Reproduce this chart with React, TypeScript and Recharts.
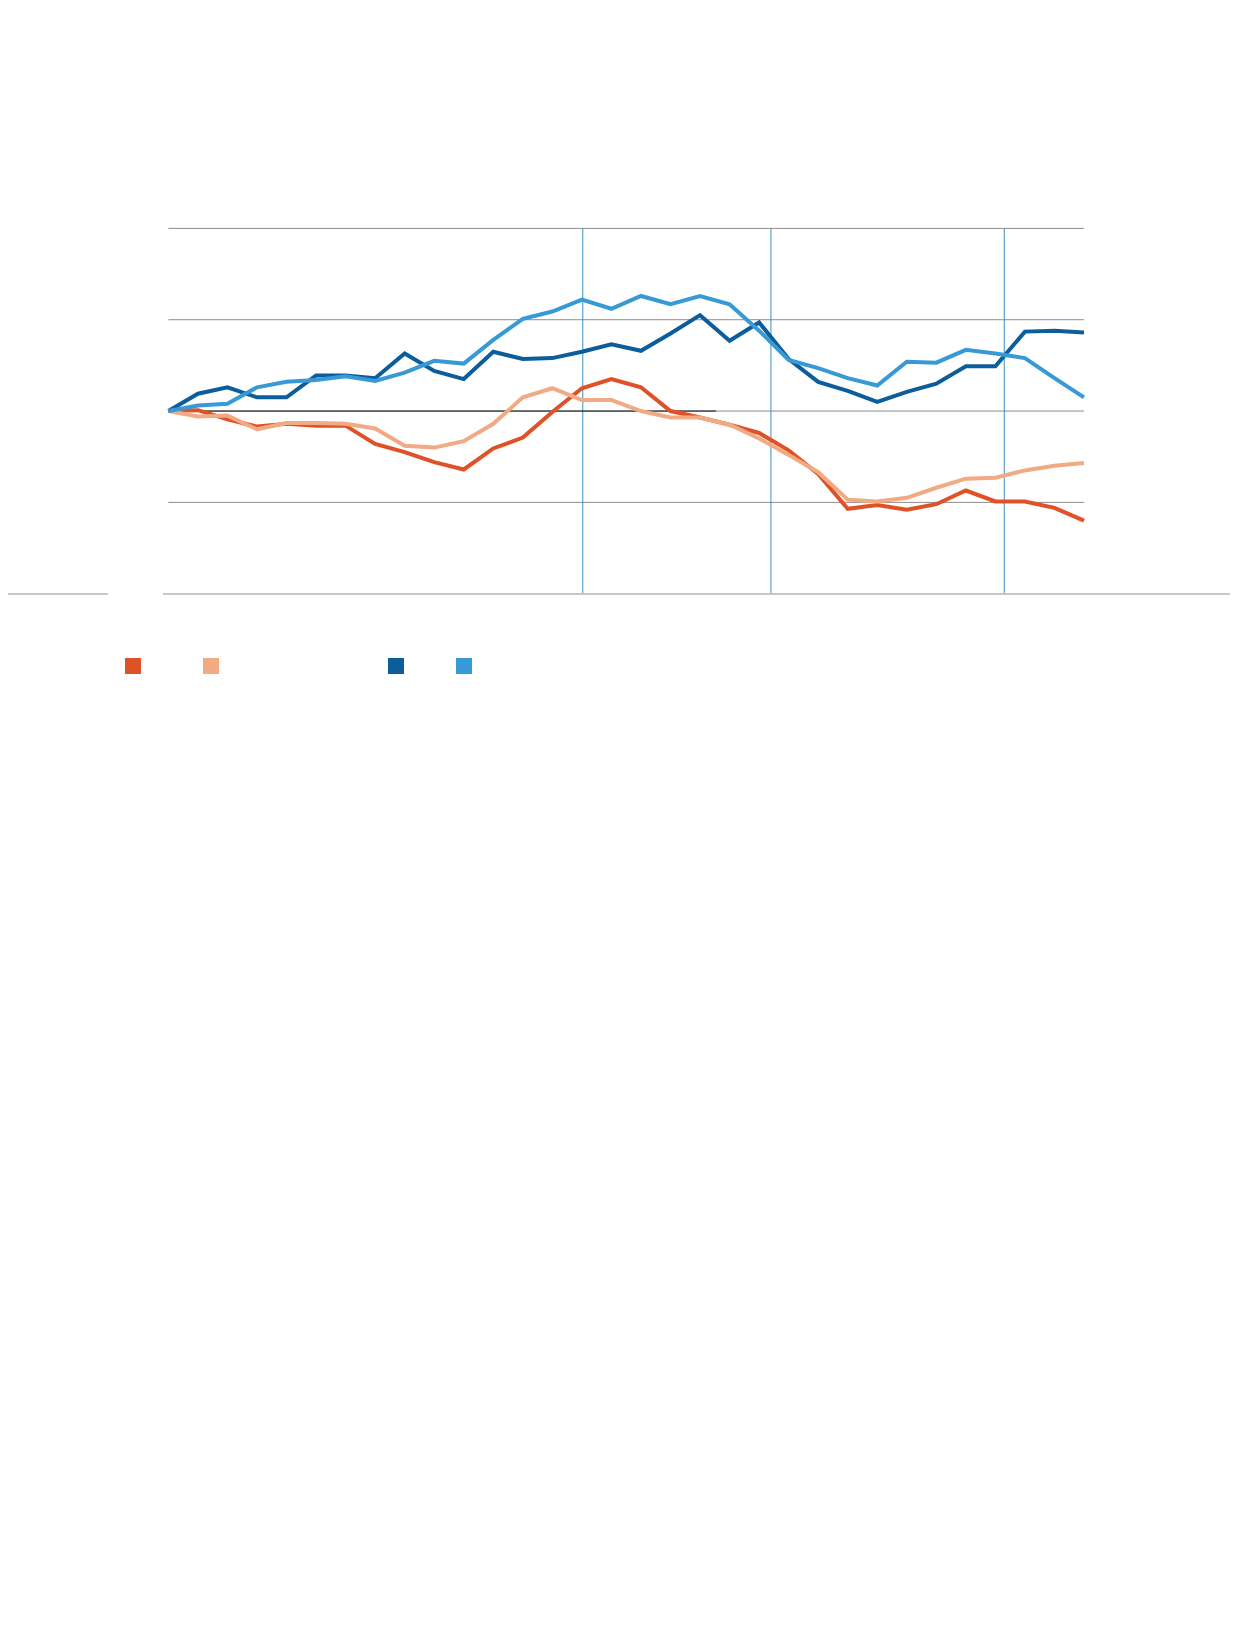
import React from "react";
import { LineChart, Line, XAxis, YAxis, CartesianGrid, ReferenceLine } from "recharts";

// 32 periods along the x axis
const periods = [0, 1, 2, 3, 4, 5, 6, 7, 8, 9, 10, 11, 12, 13, 14, 15, 16, 17, 18, 19, 20, 21, 22, 23, 24, 25, 26, 27, 28, 29, 30, 31];

// cumulative change
const seriesA = [0, 0.1, -0.9, -1.7, -1.4, -1.6, -1.6, -3.6, -4.5, -5.6, -6.4, -4.1, -2.9, -0.1, 2.5, 3.5, 2.6, 0.0, -0.7, -1.5, -2.4, -4.3, -6.9, -10.7, -10.3, -10.8, -10.2, -8.7, -9.9, -9.9, -10.6, -12.0];
const seriesB = [0, -0.6, -0.5, -2.0, -1.3, -1.3, -1.4, -1.9, -3.8, -4.0, -3.3, -1.4, 1.5, 2.5, 1.2, 1.2, 0.0, -0.7, -0.7, -1.5, -3.0, -4.8, -6.7, -9.7, -9.9, -9.5, -8.4, -7.4, -7.3, -6.5, -6.0, -5.7];
const seriesC = [0, 1.9, 2.6, 1.5, 1.5, 3.9, 3.9, 3.6, 6.3, 4.4, 3.5, 6.5, 5.7, 5.8, 6.5, 7.3, 6.6, 8.5, 10.5, 7.7, 9.7, 5.7, 3.2, 2.2, 1.0, 2.1, 3.0, 4.9, 4.9, 8.7, 8.8, 8.6];
const seriesD = [0, 0.6, 0.8, 2.6, 3.2, 3.4, 3.8, 3.3, 4.2, 5.5, 5.2, 7.8, 10.1, 10.9, 12.2, 11.2, 12.6, 11.7, 12.6, 11.7, 8.8, 5.6, 4.7, 3.6, 2.8, 5.4, 5.3, 6.7, 6.3, 5.8, 3.6, 1.5];

const yTicks = [-20, -10, 0, 10, 20];
const markers = [14.03, 20.4, 28.3];

const series = [
  { key: "a", values: seriesA, color: "#df5127" },
  { key: "b", values: seriesB, color: "#f2aa85" },
  { key: "c", values: seriesC, color: "#0b5d9b" },
  { key: "d", values: seriesD, color: "#3799d6" },
];

const data = periods.map((p, i) => {
  const row: Record<string, number> = { p };
  series.forEach((s) => (row[s.key] = s.values[i]));
  return row;
});

const legendLeft = [125, 203, 387.5, 455.5];

export default function App() {
  return (
    <div style={{ position: "relative", width: 1238, height: 700, margin: "-8px 0 0 -8px" }}>
      <LineChart
        width={1238}
        height={700}
        data={data}
        margin={{ top: 228.4, right: 154, bottom: 106.3, left: 168.4 }}
      >
        <CartesianGrid vertical={false} stroke="#8c8c8c" strokeWidth={1} />
        <XAxis dataKey="p" type="number" domain={[0, 31]} hide />
        <YAxis domain={[-20, 20]} ticks={yTicks} hide />
        {markers.map((m) => (
          <ReferenceLine key={m} x={m} stroke="#3a8fc6" strokeWidth={1} />
        ))}
        <ReferenceLine
          segment={[{ x: 0, y: 0 }, { x: 18.54, y: 0 }]}
          stroke="#111"
          strokeWidth={1}
        />
        {series.map((s) => (
          <Line
            key={s.key}
            dataKey={s.key}
            stroke={s.color}
            strokeWidth={4}
            dot={false}
            activeDot={false}
            isAnimationActive={false}
            strokeLinejoin="miter"
          />
        ))}
      </LineChart>
      {/* light grey base rule, broken near the left */}
      <div style={{ position: "absolute", left: 0, top: 592.7, width: 108, height: 2, background: "#c8c8c8" }} />
      <div style={{ position: "absolute", left: 163, top: 592.7, width: 1075, height: 2, background: "#c8c8c8" }} />
      {series.map((s, i) => (
        <div
          key={s.key}
          style={{
            position: "absolute",
            left: legendLeft[i],
            top: 658,
            width: 16,
            height: 16,
            background: s.color,
          }}
        />
      ))}
    </div>
  );
}
